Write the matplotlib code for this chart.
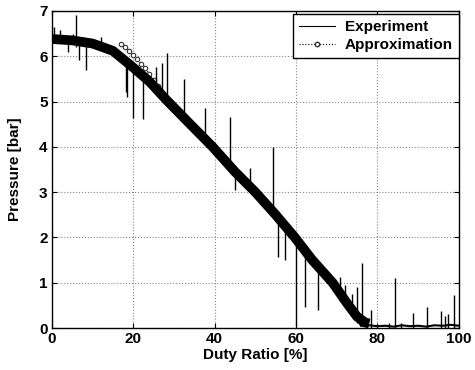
import matplotlib.pyplot as plt
from matplotlib.lines import Line2D

plt.rcParams['font.family'] = ['Liberation Sans', 'DejaVu Sans']

# experiment: centre of the thick measured band
exp_x = [0, 5, 10, 15, 20, 24, 28, 34, 39.5, 45, 50, 55, 59.7, 64, 69, 72.5, 75, 77, 78]
exp_y = [6.38, 6.35, 6.28, 6.12, 5.75, 5.44, 5.05, 4.5, 4.0, 3.45, 3.0, 2.5, 2.0, 1.5, 1.0, 0.55, 0.25, 0.12, 0.1]

# thin tail of the experiment near zero
tail_x = [76, 78, 80, 82, 84, 86, 88, 90, 92, 94, 96, 98, 100]
tail_y = [0.05, 0.06, 0.04, 0.05, 0.03, 0.06, 0.04, 0.05, 0.03, 0.06, 0.05, 0.07, 0.05]

# spikes in the experiment trace (x, low end, high end)
spike_x = [0.5, 2.0, 4.0, 5.1, 5.9, 6.7, 8.5, 12.2, 18.3, 18.6, 20.0, 22.4, 25.7, 27.0, 28.2,
           32.5, 37.6, 43.7, 45.0, 48.6, 54.3, 55.6, 57.3, 60.1, 62.2, 65.4, 70.8, 72.0,
           73.7, 74.9, 76.1, 78.5, 82.8, 84.3, 85.7, 88.8, 92.1, 95.5, 96.5, 97.4, 98.8]
spike_lo = [6.35, 6.3, 6.1, 6.3, 6.2, 5.92, 5.7, 6.2, 5.2, 5.1, 4.64, 4.62, 5.3, 5.1, 5.0,
            4.6, 4.2, 3.5, 3.05, 3.1, 2.55, 1.57, 1.5, 0.05, 0.47, 0.4, 0.6, 0.5,
            0.3, 0.1, 0.05, 0.0, 0.0, 0.0, 0.0, 0.0, 0.0, 0.0, 0.0, 0.0, 0.0]
spike_hi = [6.65, 6.58, 6.4, 6.5, 6.9, 6.35, 6.3, 6.43, 5.95, 5.9, 5.8, 5.6, 5.76, 5.85, 6.07,
            5.5, 4.86, 4.66, 3.4, 3.53, 4.0, 2.45, 2.2, 1.95, 1.7, 1.3, 1.13, 0.95,
            0.76, 0.91, 1.43, 0.4, 0.12, 1.11, 0.12, 0.33, 0.46, 0.37, 0.26, 0.3, 0.73]

# approximation curve
approx_x = [17, 18, 19, 20, 21, 22, 23, 24, 25, 26, 28, 30, 32, 34, 36, 38, 40, 42, 44, 46,
            48, 50, 52, 54, 56, 58, 60, 62, 64, 66, 68, 70, 72, 74, 76]
approx_y = [6.28, 6.2, 6.11, 6.02, 5.93, 5.83, 5.73, 5.6, 5.48, 5.34, 5.05, 4.85, 4.67, 4.5,
            4.3, 4.1, 3.92, 3.72, 3.53, 3.34, 3.18, 3.0, 2.8, 2.6, 2.38, 2.18, 1.97, 1.77,
            1.5, 1.3, 1.1, 0.88, 0.6, 0.3, 0.1]

fig = plt.figure(figsize=(4.75, 3.70), dpi=100)
ax = fig.add_axes([0.109, 0.1135, 0.857, 0.857])

ax.plot(approx_x, approx_y, ':', color='black', lw=0.8, marker='o', ms=3.2,
        mfc='white', mec='#333333', mew=0.8, zorder=2)
ax.plot(exp_x, exp_y, '-', color='black', lw=7, solid_capstyle='butt', zorder=3)
ax.plot(tail_x, tail_y, '-', color='black', lw=1.5, zorder=3)
ax.vlines(spike_x, spike_lo, spike_hi, color='black', lw=1.0, zorder=3)

ax.set_xlim(0, 100)
ax.set_ylim(0, 7)
ax.set_xticks([0, 20, 40, 60, 80, 100])
ax.set_yticks(range(8))
ax.grid(True, linestyle=':', color='#888888', lw=0.8)
ax.tick_params(direction='in', top=True, right=True, labelsize=11, pad=3)
for lab in ax.get_xticklabels() + ax.get_yticklabels():
    lab.set_fontweight('bold')
for s in ax.spines.values():
    s.set_linewidth(1.0)

ax.set_xlabel('Duty Ratio [%]', fontsize=11, fontweight='bold', labelpad=1)
ax.set_ylabel('Pressure [bar]', fontsize=11, fontweight='bold', labelpad=12)

handles = [Line2D([], [], color='black', lw=0.8),
           Line2D([], [], color='black', lw=0.8, ls=':', marker='o', ms=3.2,
                  mfc='white', mec='#333333')]
leg = ax.legend(handles, ['Experiment', 'Approximation'], loc='upper right',
                bbox_to_anchor=(1.0, 0.99), borderaxespad=0, fancybox=False,
                framealpha=1, edgecolor='black', numpoints=1, handlelength=2.4,
                prop={'size': 11, 'weight': 'bold'}, borderpad=0.4,
                labelspacing=0.25, handletextpad=0.6)
leg.get_frame().set_linewidth(1.0)

fig.savefig('out.png', dpi=100)
